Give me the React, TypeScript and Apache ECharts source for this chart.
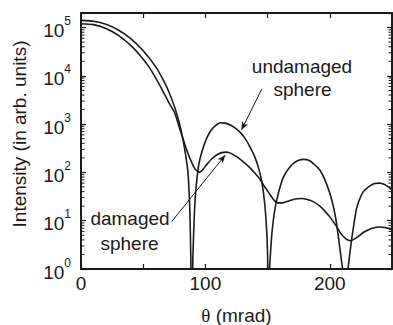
import React, { useEffect, useRef } from "react";
import * as echarts from "echarts";

// scattering angle θ (mrad) and intensity (arb. units)
const thetaUndamaged = [
  0, 10, 20, 30, 40, 50, 60, 65, 70, 75, 78, 80, 82, 84, 86, 87.5, 88.2, 89, 89.9, 90.9,
  92.2, 94.9, 99.4, 103.5, 108, 112, 116, 120, 124, 128, 132, 136, 140, 143, 145.5, 147.5,
  149, 150, 150.6, 151.6, 152.5, 153.5, 155.7, 157.4, 160, 162.8, 167, 171, 175, 179, 183, 187,
  192, 196, 200, 203, 205.4, 208, 209.5, 210.3, 212.4, 214.7, 216, 217.5, 219.5, 221.5, 224,
  227, 232, 236, 240, 244, 247, 250,
];
const intensityUndamaged = [
  141000, 135000, 117000, 89000, 59000, 33000, 15500, 9300, 5100, 2350, 1320, 830, 480, 240,
  100, 16, 2.2, 0.1, 1.6, 10,
  40, 155, 400, 680, 930, 1070, 1050, 955, 830, 676, 500, 331, 200, 117, 60, 25,
  8, 2, 0.1, 1.0, 2.5, 5.6, 16.6, 27, 50, 81, 120, 155, 178, 186, 178, 151,
  112, 71, 37, 19, 8.9, 2.8, 1.4, 1.0, 0.03, 1.0, 2.0, 4.0, 8.9, 17.8, 28,
  40, 52, 59, 60, 56, 50, 43,
];

const thetaDamaged = [
  0, 10, 20, 30, 40, 47.5, 55, 63, 70, 75, 78, 80, 82, 84.5, 87.4, 91.4, 95, 98, 101, 105,
  109, 113, 117, 121, 126, 130.5, 135.7, 140, 143.6, 146.7, 151.7, 155, 158, 162, 167, 172,
  177, 182, 187, 192, 196, 200, 205, 209, 213, 216.5, 220, 224, 228, 233, 239, 245, 250,
];
const intensityDamaged = [
  120000, 115000, 95500, 69000, 42700, 26300, 14800, 6600, 3000, 1780, 1050, 710, 500, 316,
  200, 120, 100, 115, 145, 190,
  229, 257, 263, 245, 204, 166, 126, 95, 74, 55, 35.5, 27, 23.4, 23.4, 25.7, 28.2,
  28.8, 27.5, 24.5, 20, 15.8, 12, 7.9, 5.4, 4.2, 3.85, 4.2, 5.0, 5.9, 6.8, 7.4, 7.2, 6.5,
];

const xLabelValues = [0, 100, 200];
const yDecades = [1, 10, 100, 1000, 10000, 100000];
const minorMultipliers = [2, 3, 4, 5, 6, 7, 8, 9];

// annotation arrows: [tail θ, tail I, head θ, head I]
const arrowUndamaged = [145.3, 5300, 129, 760];
const arrowDamaged = [72.9, 9.6, 115.9, 228];

const FONT = '"Liberation Sans", Arial, sans-serif';
const INK = "#1a1a1a";

export default function App() {
  const ref = useRef<HTMLDivElement>(null);
  useEffect(() => {
    if (!ref.current) return;
    const chart = echarts.init(ref.current, null, { renderer: "svg" });
    const minorTicks: number[] = [];
    yDecades.slice(0, 5).forEach((d) => minorMultipliers.forEach((m) => minorTicks.push(d * m)));

    const axisLine = { show: true, onZero: false, lineStyle: { color: INK, width: 2 } };
    const axisTick = { inside: true, length: 5, lineStyle: { color: INK, width: 1.2 } };
    const xCommon = {
      type: "value" as const,
      min: 0,
      max: 250,
      interval: 50,
      splitLine: { show: false },
      axisLine,
      axisTick,
    };
    const yCommon = {
      type: "log" as const,
      logBase: 10,
      min: 1,
      max: 200000,
      splitLine: { show: false },
      axisLine,
      axisTick,
    };

    chart.setOption({
      animation: false,
      grid: { left: 81, top: 13, width: 311, height: 256, outerBoundsMode: "none" },
      xAxis: [
        {
          ...xCommon,
          position: "bottom",
          axisLabel: {
            margin: 5,
            fontSize: 19,
            fontFamily: FONT,
            color: INK,
            formatter: (v: number) => (xLabelValues.indexOf(v) >= 0 ? String(v) : ""),
          },
          name: "{t|θ} (mrad)",
          nameLocation: "middle",
          nameGap: 37,
          nameTextStyle: {
            fontSize: 19,
            fontFamily: FONT,
            color: INK,
            rich: { t: { fontSize: 19, fontFamily: '"Liberation Serif", serif', color: INK } },
          },
        },
        { ...xCommon, position: "top", axisLabel: { show: false } },
      ],
      yAxis: [
        {
          ...yCommon,
          position: "left",
          axisLabel: {
            margin: 10,
            color: INK,
            formatter: (v: number) => {
              const e = Math.log10(v);
              if (Math.abs(e - Math.round(e)) > 1e-6) return "";
              return "{b|10}{s|" + Math.round(e) + "}";
            },
            rich: {
              b: { fontSize: 19, fontFamily: FONT, color: INK, padding: [6, 0, 0, 0] },
              s: { fontSize: 12, fontFamily: FONT, color: INK, verticalAlign: "top" },
            },
          },
          name: "Intensity (in arb. units)",
          nameLocation: "middle",
          nameGap: 52,
          nameTextStyle: { fontSize: 19, fontFamily: FONT, color: INK, padding: [0, 0, 0, 14] },
        },
        { ...yCommon, position: "right", axisLabel: { show: false } },
      ],
      series: [
        {
          name: "undamaged sphere",
          type: "line",
          data: thetaUndamaged.map((t, i) => [t, intensityUndamaged[i]]),
          showSymbol: false,
          smooth: 0.15,
          clip: true,
          lineStyle: { color: INK, width: 1.6 },
          markLine: {
            silent: true,
            symbol: ["none", "arrow"],
            symbolSize: [5, 8],
            label: { show: false },
            lineStyle: { color: INK, width: 1, type: "solid" },
            data: [
              [
                { coord: [arrowUndamaged[0], arrowUndamaged[1]] },
                { coord: [arrowUndamaged[2], arrowUndamaged[3]] },
              ],
            ],
          },
        },
        {
          name: "damaged sphere",
          type: "line",
          data: thetaDamaged.map((t, i) => [t, intensityDamaged[i]]),
          showSymbol: false,
          smooth: 0.15,
          clip: true,
          lineStyle: { color: INK, width: 1.6 },
          markLine: {
            silent: true,
            symbol: ["none", "arrow"],
            symbolSize: [5, 8],
            label: { show: false },
            lineStyle: { color: INK, width: 1, type: "solid" },
            data: [
              [
                { coord: [arrowDamaged[0], arrowDamaged[1]] },
                { coord: [arrowDamaged[2], arrowDamaged[3]] },
              ],
            ],
          },
        },
        {
          type: "custom",
          silent: true,
          clip: false,
          z: 10,
          data: minorTicks.map((v) => [0, v]),
          renderItem: (params: any, api: any) => {
            const p = api.coord([0, api.value(1)]);
            const cs = params.coordSys;
            const style = { stroke: INK, lineWidth: 1 };
            return {
              type: "group",
              children: [
                { type: "line", shape: { x1: cs.x, y1: p[1], x2: cs.x + 3.5, y2: p[1] }, style },
                {
                  type: "line",
                  shape: { x1: cs.x + cs.width, y1: p[1], x2: cs.x + cs.width - 3.5, y2: p[1] },
                  style,
                },
              ],
            };
          },
        },
      ],
      graphic: [
        { type: "text", x: 302, y: 66.4, style: { text: "undamaged", font: `19px ${FONT}`, fill: INK, align: "center", verticalAlign: "middle" } },
        { type: "text", x: 302.5, y: 89.4, style: { text: "sphere", font: `19px ${FONT}`, fill: INK, align: "center", verticalAlign: "middle" } },
        { type: "text", x: 130, y: 218.7, style: { text: "damaged", font: `19px ${FONT}`, fill: INK, align: "center", verticalAlign: "middle" } },
        { type: "text", x: 129.5, y: 243, style: { text: "sphere", font: `19px ${FONT}`, fill: INK, align: "center", verticalAlign: "middle" } },
      ],
    });
    return () => chart.dispose();
  }, []);
  return (
    <div
      ref={ref}
      style={{ position: "absolute", left: 0, top: 0, width: 393, height: 325, background: "#fff" }}
    />
  );
}
